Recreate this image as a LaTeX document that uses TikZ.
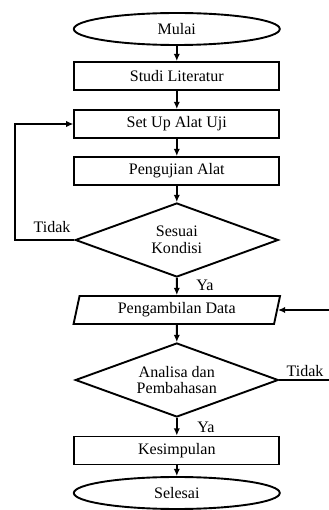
\documentclass[tikz,border=0pt]{standalone}
\usepackage{fontspec}
\setmainfont{Liberation Serif}
\usetikzlibrary{shapes,arrows.meta,positioning,calc}

\tikzset{
    terminal/.style={draw, ellipse, minimum width=5.15cm, minimum height=0.8cm, inner sep=0pt},
    process/.style={draw, rectangle, minimum width=5.125cm, minimum height=0.7cm, inner sep=0pt},
    datain/.style={draw, trapezium, trapezium left angle=76, trapezium right angle=104,
        trapezium stretches=true, minimum width=5.175cm, minimum height=0.7cm, inner sep=0pt},
    decision/.style={draw, diamond, shape aspect=2.7, minimum width=5.075cm,
        minimum height=1.85cm, inner sep=1pt, align=center},
    flow/.style={-{Latex[length=1.8mm,width=1.6mm]}}
}

\begin{document}
\begin{tikzpicture}[line width=1.35pt, font=\fontsize{11.4}{11.8}\selectfont]
        \useasboundingbox (0,0) rectangle (8.225,12.75);

        \node[terminal] (mulai) at (4.42,12.025) {Mulai};
        \node[process] (studi) at (4.42,10.85) {Studi Literatur};
        \node[process] (setup) at (4.42,9.65) {Set Up Alat Uji};
        \node[process] (uji) at (4.42,8.475) {Pengujian Alat};
        \node[decision] (sesuai) at (4.42,6.75) {Sesuai\\Kondisi};
        \node[datain] (ambil) at (4.42,5.0) {Pengambilan Data};
        \node[decision] (analisa) at (4.42,3.25) {Analisa dan\\Pembahasan};
        \node[process] (simpul) at (4.42,1.4875) {Kesimpulan};
        \node[terminal] (selesai) at (4.42,0.425) {Selesai};

        \draw[flow] (mulai) -- (studi);
        \draw[flow] (studi) -- (setup);
        \draw[flow] (setup) -- (uji);
        \draw[flow] (uji) -- (sesuai);
        \draw[flow] (sesuai) -- (ambil);
        \draw[flow] (ambil) -- (analisa);
        \draw[flow] (analisa) -- (simpul);
        \draw[flow] (simpul) -- (selesai);

        % loop back
        \coordinate (kiri) at (0.375,6.75);
        \draw[flow] (sesuai.west) -- (kiri) |- (setup.west);
        \coordinate (kanan) at (8.3,3.25);
        \coordinate (kanandata) at (8.3,5.0);
        \draw (analisa.east) -- (kanan);
        \draw[flow] (kanandata) -- (ambil.east);

        \node (tidak1) at (1.3,7.075) {Tidak};
        \node (ya1) at (5.125,5.625) {Ya};
        \node (tidak2) at (7.625,3.475) {Tidak};
        \node (ya2) at (5.15,2.075) {Ya};
\end{tikzpicture}
\end{document}
